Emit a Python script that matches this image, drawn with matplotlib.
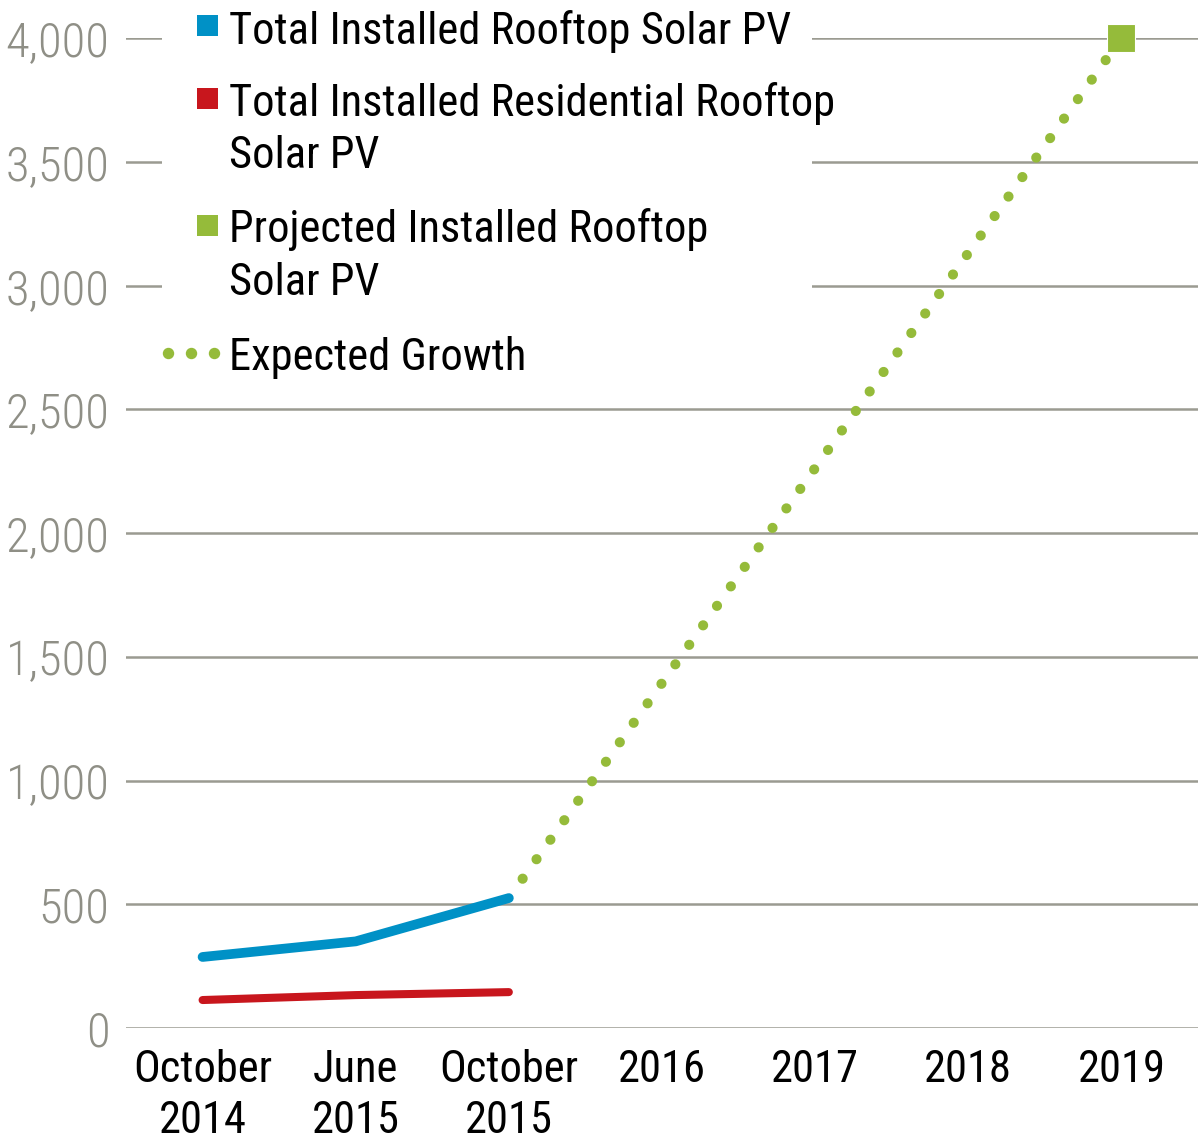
import matplotlib
matplotlib.use("Agg")
import matplotlib.pyplot as plt
from matplotlib.patches import Rectangle
from matplotlib.lines import Line2D

# data
categories = ["October\n2014", "June\n2015", "October\n2015", "2016", "2017", "2018", "2019"]
rooftop_total = [287, 350, 525]            # Oct 2014, Jun 2015, Oct 2015
rooftop_residential = [113, 133, 145]
growth_x = [2, 6]                          # Oct 2015 -> 2019
growth_y = [525, 4000]
projected_x = [6]
projected_y = [4000]
y_ticks = [0, 500, 1000, 1500, 2000, 2500, 3000, 3500, 4000]

BLUE = "#0091c6"
RED = "#c8161d"
GREEN = "#95bb3a"
GRID = "#9b9b91"
TICK_GREY = "#8f8f86"

W, H = 1198, 1148
plt.rcParams['font.family'] = ['Roboto Condensed', 'Archivo Narrow', 'PT Sans Narrow',
                               'Liberation Sans', 'DejaVu Sans']

fig = plt.figure(figsize=(W / 100, H / 100), dpi=100)
ax = fig.add_axes([126 / W, 120 / H, 1 - 126 / W, (1028 - 38) / H])

def fx(px):
    return px / W

def fy(py):
    return 1 - py / H

ax.set_xlim(-0.5, 6.5)
ax.set_ylim(0, 4000)
for s in ax.spines.values():
    s.set_visible(False)

ax.set_yticks(y_ticks)
ax.set_yticklabels(["{:,}".format(v) for v in y_ticks], fontweight='light')
ax.set_xticks(range(len(categories)))
ax.set_xticklabels(categories, linespacing=1.28)
ax.tick_params(axis='y', length=0, pad=12, labelsize=35, labelcolor=TICK_GREY)
ax.tick_params(axis='x', length=0, pad=15, labelsize=32, labelcolor='black')

ax.set_axisbelow(True)
ax.yaxis.grid(True, color=GRID, linewidth=1.8)
ax.xaxis.grid(False)

# white panel behind the legend hides the top gridlines
ax.add_patch(Rectangle((fx(162), fy(390)), fx(812) - fx(162), fy(0) - fy(390),
                       transform=fig.transFigure, facecolor='white', edgecolor='none',
                       zorder=1, clip_on=False))

ax.plot(range(len(rooftop_total)), rooftop_total, color=BLUE, linewidth=7,
        solid_capstyle='round', solid_joinstyle='round', zorder=3)
ax.plot(range(len(rooftop_residential)), rooftop_residential, color=RED, linewidth=5.8,
        solid_capstyle='round', zorder=3)
ax.plot(growth_x, growth_y, color=GREEN, linewidth=7.3, linestyle=(0.02, (0.01, 2.35)),
        dash_capstyle='round', zorder=3)
ax.plot(projected_x, projected_y, marker='s', markersize=20, color=GREEN,
        markeredgecolor='white', markeredgewidth=0.8, linestyle='none', zorder=4, clip_on=False)

# legend, drawn by hand so the swatches sit on the first text line
for col, top in [(BLUE, 15), (RED, 88), (GREEN, 215)]:
    fig.patches.append(Rectangle((fx(197), fy(top + 21)), fx(21), fy(0) - fy(21),
                                 transform=fig.transFigure, facecolor=col, edgecolor='none'))
fig.lines.append(Line2D([fx(168), fx(191), fx(214)], [fy(353)] * 3, transform=fig.transFigure,
                        linestyle='none', marker='o', markersize=7.2, color=GREEN))

legend_lines = [("Total Installed Rooftop Solar PV", 44),
                ("Total Installed Residential Rooftop", 116),
                ("Solar PV", 168),
                ("Projected Installed Rooftop", 242),
                ("Solar PV", 295),
                ("Expected Growth", 370)]
for txt, base in legend_lines:
    fig.text(fx(229), fy(base), txt, fontsize=32, va='baseline', ha='left', color='black')

plt.savefig('out.png', dpi=100)
